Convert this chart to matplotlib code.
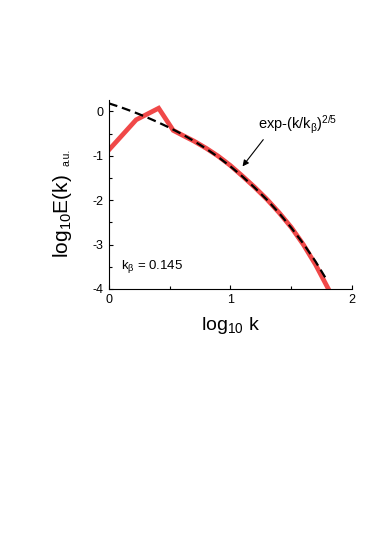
import matplotlib
matplotlib.use("Agg")
import matplotlib.pyplot as plt

plt.rcParams['font.family'] = ['Liberation Sans', 'DejaVu Sans']
plt.rcParams['mathtext.fontset'] = 'custom'
plt.rcParams['mathtext.rm'] = 'Liberation Sans'
plt.rcParams['mathtext.it'] = 'Liberation Sans'
plt.rcParams['mathtext.bf'] = 'Liberation Sans'
plt.rcParams['axes.unicode_minus'] = False

# measured spectrum (log10 k, log10 E)
data_x = [0.0, 0.225, 0.41, 0.53, 0.6, 0.7, 0.8, 0.9, 1.0, 1.1, 1.2, 1.3, 1.4, 1.5, 1.6, 1.7, 1.81]
data_y = [-0.87, -0.19, 0.07, -0.43, -0.53, -0.67, -0.83, -1.01, -1.22, -1.46, -1.71, -1.98, -2.28, -2.61, -3.0, -3.45, -4.02]

# stretched exponential fit
fit_x = [0.0, 0.1, 0.2, 0.3, 0.4, 0.5, 0.6, 0.7, 0.8, 0.9, 1.0, 1.1, 1.2, 1.3, 1.4, 1.5, 1.6, 1.7, 1.8]
fit_y = [0.18, 0.09, -0.01, -0.12, -0.24, -0.37, -0.51, -0.67, -0.84, -1.03, -1.24, -1.47, -1.72, -1.99, -2.29, -2.62, -2.98, -3.38, -3.83]

fig = plt.figure(figsize=(3.74, 5.36), dpi=100)
ax = fig.add_axes([0.291, 0.461, 0.65, 0.352])

ax.plot(data_x, data_y, color='#f04848', lw=3.4, solid_joinstyle='miter', zorder=2)
ax.plot(fit_x, fit_y, color='black', lw=1.6, dashes=(4, 2.2), zorder=3)

ax.set_xlim(0, 2)
ax.set_ylim(-4, 0.25)
ax.set_xticks([0, 1, 2])
ax.set_xticks([0.5, 1.5], minor=True)
ax.set_yticks([0, -1, -2, -3, -4])
ax.set_yticks([-0.5, -1.5, -2.5, -3.5], minor=True)
ax.tick_params(which='major', direction='in', length=3, width=0.8, labelsize=9, pad=4)
ax.tick_params(which='minor', direction='in', length=2.5, width=0.8)
ax.spines['top'].set_visible(False)
ax.spines['right'].set_visible(False)

ax.set_xlabel(r'log$_{10}$ k', fontsize=14, labelpad=6)
fig.text(62 / 374, 1 - 216 / 536, r'log$_{10}$E(k)', fontsize=15, rotation=90,
         va='center', ha='center')
fig.text(67 / 374, 1 - 157 / 536, 'a.u.', fontsize=7.5, rotation=90, va='center', ha='center')

ax.annotate(r'exp-(k/k$_\beta$)$^{2/5}$', xy=(1.10, -1.24), xytext=(1.23, -0.3),
            fontsize=10.5, ha='left', va='center',
            arrowprops=dict(arrowstyle='-|>', color='black', lw=0.8, mutation_scale=9,
                            shrinkA=1, shrinkB=0, relpos=(0.1, 0)))
ax.text(0.1, -3.5, r'k$_\beta$ = 0.145', fontsize=9.5, va='center')

fig.savefig('out.png', dpi=100)
